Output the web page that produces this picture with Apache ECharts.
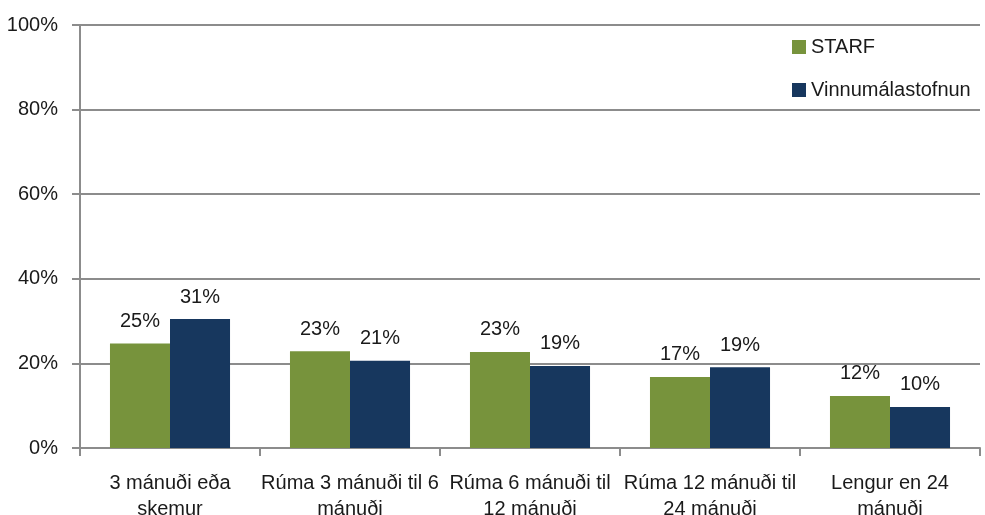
<!DOCTYPE html>
<html>
<head>
<meta charset="utf-8">
<script src="https://cdn.jsdelivr.net/npm/echarts@6/dist/echarts.min.js"></script>
<style>
html,body{margin:0;padding:0;background:#fff;}
#chart{width:985px;height:515px;}
</style>
</head>
<body>
<div id="chart"></div>
<script>
const categories = [
  "3 mánuði eða\nskemur",
  "Rúma 3 mánuði til 6\nmánuði",
  "Rúma 6 mánuði til\n12 mánuði",
  "Rúma 12 mánuði til\n24 mánuði",
  "Lengur en 24\nmánuði"
];
const seriesNames = ["STARF", "Vinnumálastofnun"];
const starf = [24.7, 22.9, 22.7, 16.8, 12.3];
const vinnumalastofnun = [30.5, 20.6, 19.4, 19.1, 9.7];
const yTicks = [0, 20, 40, 60, 80, 100];

const fontFamily = '"Liberation Sans", Arial, sans-serif';
const chart = echarts.init(document.getElementById('chart'), null, {renderer: 'canvas'});

const labelCfg = {
  show: true,
  position: 'top',
  distance: 12,
  color: '#1a1a1a',
  fontSize: 20,
  fontFamily: fontFamily,
  formatter: p => Math.round(p.value) + '%'
};

chart.setOption({
  animation: false,
  backgroundColor: '#fff',
  grid: {left: 80, right: 5, top: 25, bottom: 67, containLabel: false, outerBoundsMode: 'none'},
  legend: {
    orient: 'vertical',
    left: 787,
    top: 32,
    itemWidth: 14,
    itemHeight: 14,
    itemGap: 23,
    icon: 'rect',
    textStyle: {fontSize: 20, fontFamily: fontFamily, color: '#1a1a1a'},
    data: seriesNames
  },
  xAxis: {
    type: 'category',
    data: categories,
    axisLine: {show: true, lineStyle: {color: '#8c8c8c', width: 2}},
    axisTick: {show: true, length: 8, lineStyle: {color: '#8c8c8c', width: 2}},
    axisLabel: {fontSize: 20, fontFamily: fontFamily, color: '#1a1a1a', margin: 22, lineHeight: 26, interval: 0}
  },
  yAxis: {
    type: 'value',
    min: yTicks[0],
    max: yTicks[yTicks.length - 1],
    interval: yTicks[1] - yTicks[0],
    axisLine: {show: true, lineStyle: {color: '#8c8c8c', width: 2}},
    axisTick: {show: true, length: 8, lineStyle: {color: '#8c8c8c', width: 2}},
    splitLine: {show: true, lineStyle: {color: '#8c8c8c', width: 2}},
    axisLabel: {fontSize: 20, fontFamily: fontFamily, color: '#1a1a1a', margin: 22, formatter: v => v + '%'}
  },
  series: [
    {
      name: seriesNames[0],
      type: 'bar',
      data: starf,
      barGap: '0%',
      barCategoryGap: '33.3%',
      itemStyle: {color: '#77933C'},
      label: labelCfg
    },
    {
      name: seriesNames[1],
      type: 'bar',
      data: vinnumalastofnun,
      barGap: '0%',
      barCategoryGap: '33.3%',
      itemStyle: {color: '#17375E'},
      label: labelCfg
    }
  ]
});
</script>
</body>
</html>
